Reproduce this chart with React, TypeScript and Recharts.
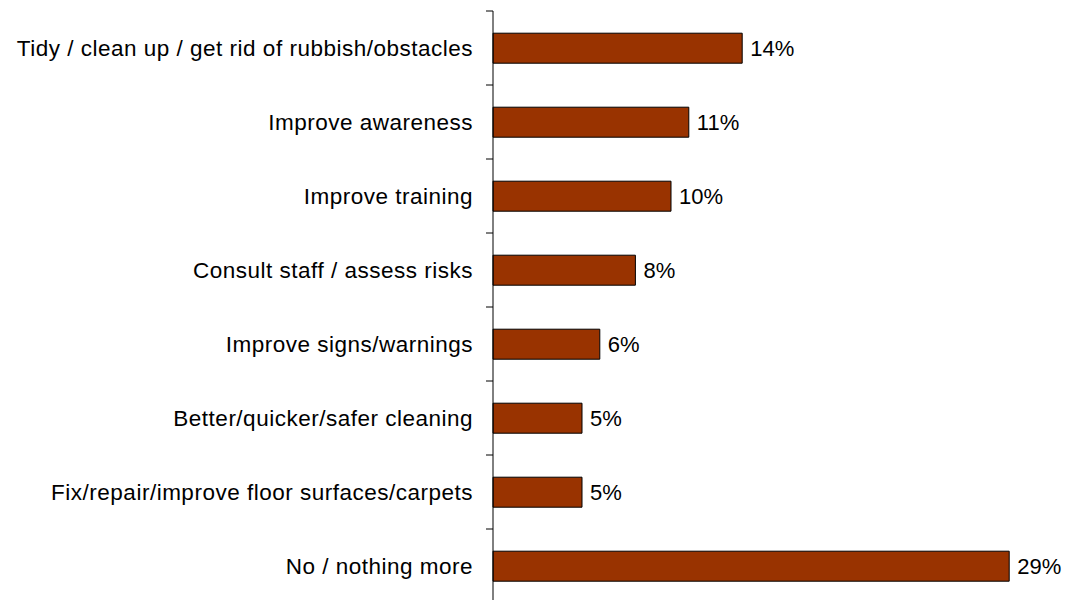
import { BarChart, Bar, XAxis, YAxis, LabelList } from "recharts";

const categories = [
  "Tidy / clean up / get rid of rubbish/obstacles",
  "Improve awareness",
  "Improve training",
  "Consult staff / assess risks",
  "Improve signs/warnings",
  "Better/quicker/safer cleaning",
  "Fix/repair/improve floor surfaces/carpets",
  "No / nothing more",
];

const values = [14, 11, 10, 8, 6, 5, 5, 29];

const xDomain = [0, 30];

const data = categories.map((c, i) => ({ category: c, value: values[i] }));

const font = "'Liberation Sans', Arial, sans-serif";

// label on the left, tick mark sits on the boundary between categories
const CategoryTick = (props: any) => {
  const { x, y, payload } = props;
  const half = payload.offset || 0;
  return (
    <g>
      <line x1={x + 13} x2={x + 20} y1={y - half} y2={y - half} stroke="#000" />
      <text
        x={x}
        y={y}
        textAnchor="end"
        dominantBaseline="central"
        fontSize={22.5}
        letterSpacing={0.5}
        fontFamily={font}
        fill="#000"
      >
        {payload.value}
      </text>
    </g>
  );
};

export default function App() {
  return (
    <div
      style={{
        position: "absolute",
        left: 0,
        top: 0,
        width: 1068,
        height: 600,
        overflow: "hidden",
        background: "#fff",
      }}
    >
      <BarChart
        width={1068}
        height={605}
        data={data}
        layout="vertical"
        barCategoryGap="30%"
        margin={{ top: 11, right: 41, bottom: 2, left: 0 }}
      >
        <XAxis type="number" domain={xDomain} hide />
        <YAxis
          type="category"
          dataKey="category"
          width={493}
          tickSize={0}
          tickMargin={20}
          tickLine={false}
          axisLine={{ stroke: "#000" }}
          tick={<CategoryTick />}
          interval={0}
        />
        <Bar
          dataKey="value"
          fill="#993300"
          stroke="#000"
          strokeWidth={1}
          isAnimationActive={false}
        >
          <LabelList
            dataKey="value"
            position="right"
            offset={8}
            formatter={(v: any) => `${v}%`}
            style={{ fontSize: 22, fontFamily: font, fill: "#000" }}
          />
        </Bar>
      </BarChart>
    </div>
  );
}
